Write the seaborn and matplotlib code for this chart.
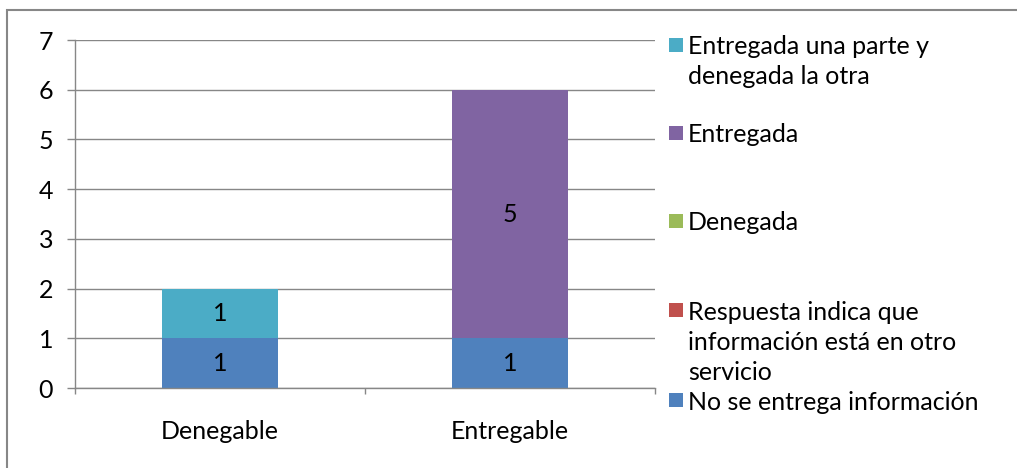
import matplotlib
matplotlib.use("Agg")
import matplotlib.pyplot as plt
import seaborn as sns
import pandas as pd
import numpy as np
from matplotlib.patches import Rectangle

categories = ["Denegable", "Entregable"]
series_names = [
    "No se entrega información",
    "Respuesta indica que\ninformación está en otro\nservicio",
    "Denegada",
    "Entregada",
    "Entregada una parte y\ndenegada la otra",
]
no_entrega = [1, 1]
otro_servicio = [0, 0]
denegada = [0, 0]
entregada = [0, 5]
parte = [1, 0]
colors = ["#4F81BD", "#C0504D", "#9BBB59", "#8064A2", "#4BACC6"]
yticks = [0, 1, 2, 3, 4, 5, 6, 7]

sns.set_theme(style="white")
plt.rcParams["font.family"] = ["Lato", "DejaVu Sans"]

W, H = 1017, 468
FS = 18.0
values = [no_entrega, otro_servicio, denegada, entregada, parte]
cum = np.cumsum(np.array(values), axis=0)

fig = plt.figure(figsize=(W/100, H/100), dpi=100)
ax = fig.add_axes([75/W, 1-388/H, 580/W, 348/H])

grid_c = "#878787"
for k in yticks:
    ax.axhline(k, color=grid_c, lw=1.0, zorder=0)

for i in range(len(values)-1, -1, -1):
    df = pd.DataFrame({"cat": categories, "val": cum[i]})
    sns.barplot(data=df, x="cat", y="val", color=colors[i], width=0.4,
                saturation=1, ax=ax, zorder=2, edgecolor="none")

for i, vals in enumerate(values):
    for j, v in enumerate(vals):
        if v > 0:
            ax.text(j, cum[i][j] - v/2, str(v), ha="center", va="center",
                    fontsize=FS, color="black", zorder=3)

ax.set_ylim(0, 7)
ax.set_xlim(-0.5, 1.5)
ax.set_yticks(yticks)
ax.set_yticklabels([str(t) for t in yticks], fontsize=FS, color="black")
ax.set_xlabel("")
ax.set_ylabel("")
ax.set_xticks([0, 1])
ax.set_xticklabels(categories, fontsize=FS, color="black")
ax.set_xticks([-0.5, 0.5, 1.5], minor=True)
ax.tick_params(axis="x", which="major", length=0, pad=23)
ax.tick_params(axis="x", which="minor", length=4.5, color=grid_c, width=1.0, direction="out", bottom=True)
ax.tick_params(axis="y", length=5.8, color=grid_c, width=1.0, direction="out", left=True, pad=10)
for s in ["top", "right"]:
    ax.spines[s].set_visible(False)
for s in ["left", "bottom"]:
    ax.spines[s].set_color(grid_c)
    ax.spines[s].set_linewidth(1.0)

# legend, drawn manually (square aligned with first line of label)
leg_y = [400, 310, 221, 132.5, 45]  # square centers in px, per series
line_h = 30
for i, name in enumerate(series_names):
    yc = leg_y[i]
    fig.patches.append(Rectangle((669/W, 1-(yc+7)/H), 14/W, 14/H, transform=fig.transFigure,
                                 facecolor=colors[i], edgecolor="none"))
    for k, line in enumerate(name.split("\n")):
        fig.text(688/W, 1-(yc+k*line_h)/H, line, ha="left", va="center_baseline",
                 fontsize=FS, color="black")

fig.patches.append(Rectangle((7/W, -0.1), 1.1, 1-10/H+0.1, transform=fig.transFigure,
                             fill=False, edgecolor=grid_c, lw=1.5, zorder=0))

fig.savefig("out.png", dpi=100)
